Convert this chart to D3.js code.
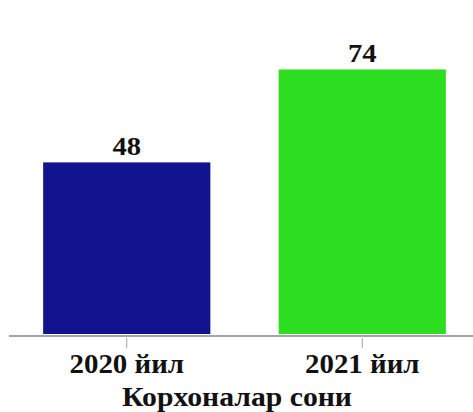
<!DOCTYPE html>
<html><head><meta charset="utf-8">
<script src="https://cdn.jsdelivr.net/npm/d3@7"></script>
<style>body{margin:0;background:#fff}svg{display:block}</style>
</head><body>
<script>
const categories = ["2020 йил", "2021 йил"];
const values = [48, 74];
const colors = ["#11138f", "#2ddd1f"];
const axisTitle = "Корхоналар сони";

const W = 473, H = 412;
const FONT = '"Liberation Serif", "Times New Roman", serif';
const svg = d3.select("body").append("svg").attr("width", W).attr("height", H);

const x = d3.scaleBand().domain(categories).range([9, 480]).paddingInner(0.29).paddingOuter(0.145);
const y = d3.scaleLinear().domain([0, 80]).range([334, 48]);

svg.selectAll("rect.bar").data(values).join("rect")
  .attr("class", "bar")
  .attr("x", (d, i) => x(categories[i]))
  .attr("width", x.bandwidth())
  .attr("y", d => y(d))
  .attr("height", d => y(0) - y(d))
  .attr("fill", (d, i) => colors[i]);

svg.selectAll("text.val").data(values).join("text")
  .attr("class", "val")
  .attr("transform", (d, i) => `translate(${x(categories[i]) + x.bandwidth() / 2},${y(d) - 7}) scale(1.1,1)`)
  .attr("text-anchor", "middle")
  .style("font-family", FONT).style("font-weight", "bold").style("font-size", "26px")
  .attr("fill", "#111")
  .text(d => d);

const axis = svg.append("g").attr("transform", "translate(0,336)")
  .call(d3.axisBottom(x).tickSize(12));
axis.select(".domain").attr("stroke", "#a3a3b3").attr("stroke-width", 2).attr("d", "M9,0H480");
axis.selectAll(".tick line").attr("stroke", "#a3a3b3").attr("stroke-width", 1).attr("y1", 2);
axis.selectAll(".tick text")
  .attr("y", 37).attr("dy", null)
  .attr("transform", "scale(1.07,1)")
  .style("font-family", FONT).style("font-weight", "bold").style("font-size", "27px")
  .attr("fill", "#111");

svg.append("text")
  .attr("transform", "translate(237,406) scale(1.1,1)")
  .attr("text-anchor", "middle")
  .style("font-family", FONT).style("font-weight", "bold").style("font-size", "27px")
  .attr("fill", "#111")
  .text(axisTitle);
</script>
</body></html>
